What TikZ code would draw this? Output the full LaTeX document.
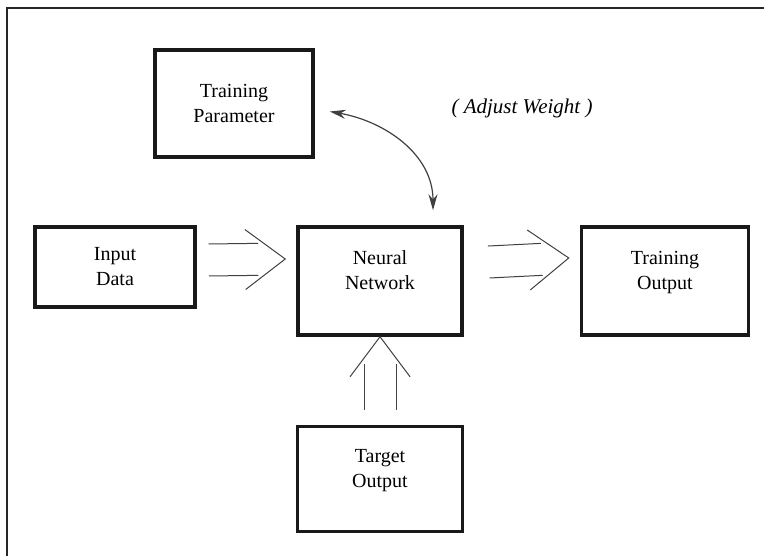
\documentclass[tikz,border=0pt]{standalone}
\usepackage{fontspec}
\setmainfont{Liberation Serif}
\usetikzlibrary{arrows.meta}
\usetikzlibrary{calc}
\usetikzlibrary{positioning}

\tikzset{
    box/.style={draw=black!90, line width=3.5pt, align=center, inner sep=0pt,
        font=\fontsize{20}{25}\selectfont},
    lowtext/.style={text height=40pt, text depth=23pt},
    dblline/.style={draw=black!75, line width=1pt},
    weightarrow/.style={draw=black!75, line width=1.2pt,
        {Stealth[length=16pt,width=9pt]}-{Stealth[length=16pt,width=9pt]}},
    frame/.style={draw=black!85, line width=2pt},
}

% two parallel lines with an open chevron at the tip
\newcommand{\dblarrow}[2]{%
    \path (#1) coordinate (da) (#2) coordinate (db);
    \path ($(db)!27pt!(da)$) coordinate (dc) ($(db)!40pt!(da)$) coordinate (dd);
    \draw[dblline] ($(da)!16pt!90:(db)$) -- ($(dc)!16pt!90:(db)$);
    \draw[dblline] ($(da)!16pt!-90:(db)$) -- ($(dc)!16pt!-90:(db)$);
    \draw[dblline] ($(dd)!30pt!90:(db)$) -- (db) -- ($(dd)!30pt!-90:(db)$);
}

\begin{document}
\begin{tikzpicture}[x=1pt, y=-1pt]
    \useasboundingbox (0,0) rectangle (764,556);
    \draw[frame] (7,556) -- (7,8) -- (764,8);

    \node [box,lowtext,minimum width=164pt,minimum height=108pt] (nn) at (380,281) {Neural\\Network};
    \node [box,minimum width=160pt,minimum height=80pt] (in) at (115,267) {Input\\Data};
    \node [box,lowtext,minimum width=167pt,minimum height=108pt] (out) [right=116pt of nn] {Training\\Output};
    \node [box,lowtext,minimum width=165pt,minimum height=105pt] (target) [below=88pt of nn] {Target\\Output};
    \node [box,minimum width=158pt,minimum height=107pt] (param) at (234,103.5) {Training\\Parameter};
    \node [font=\fontsize{21}{25}\selectfont\itshape] (adj) at (522,108) {( Adjust Weight )};

    \dblarrow{[xshift=12pt,yshift=7pt]in.east}{[xshift=-11pt,yshift=22pt]nn.west}
    \dblarrow{[xshift=25pt,yshift=19pt]nn.east}{[xshift=-11pt,yshift=23pt]out.west}
    \dblarrow{[yshift=15pt]target.north}{nn.south}

    \draw[weightarrow] ([xshift=15pt,yshift=-8pt]param.east) to[out=-10,in=90] ([xshift=53pt,yshift=15pt]nn.north);
\end{tikzpicture}
\end{document}
